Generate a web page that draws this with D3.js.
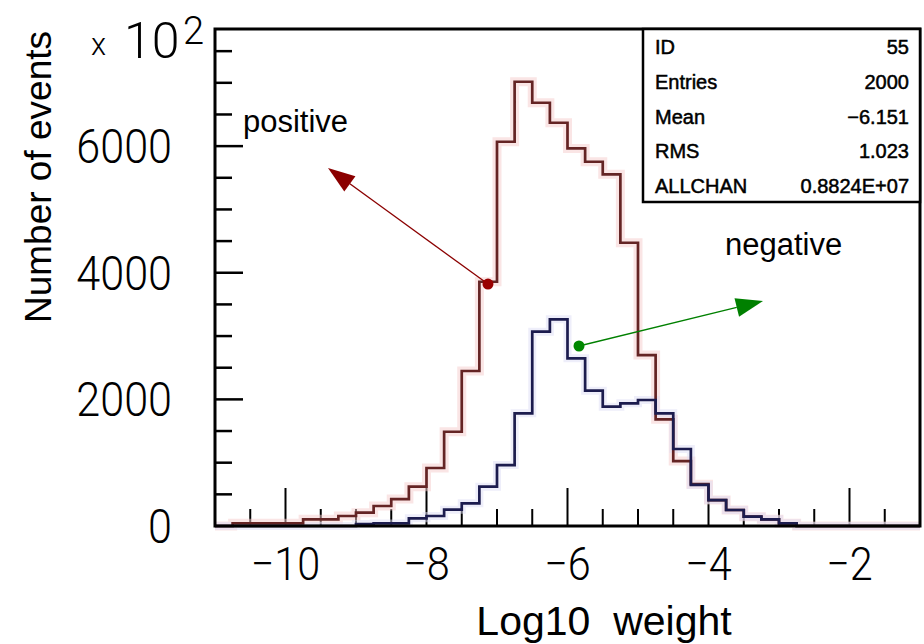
<!DOCTYPE html>
<html>
<head>
<meta charset="utf-8">
<script src="https://cdn.jsdelivr.net/npm/d3@7/dist/d3.min.js"></script>
<style>
body { margin: 0; background: #fff; }
svg { display: block; }
</style>
</head>
<body>
<script>
// histogram bins: lower edges, width 0.25 in log10(weight)
var binLow = d3.range(-11, -1, 0.25);
var binWidth = 0.25;
var positive = [0, 42, 42, 42, 42, 105, 105, 158, 210, 316,
    426, 621, 916, 1489, 2448, 3858, 6069, 7017, 6685, 6369,
    5964, 5753, 5554, 4474, 2700, 1685, 1026, 660, 410, 253,
    147, 106, 42, 0, 0, 0, 0, 0, 0, 0];
var negative = [0, 0, 0, 0, 0, 0, 0, 0, 30, 40,
    40, 121, 158, 258, 358, 621, 963, 1780, 3069, 3264,
    2648, 2137, 1884, 1938, 1990, 1780, 1216, 648, 410, 253,
    147, 106, 42, 0, 0, 0, 0, 0, 0, 0];
var xTickLabels = [-10, -8, -6, -4, -2];
var yTickLabels = [0, 2000, 4000, 6000];
var statNames = ["ID", "Entries", "Mean", "RMS", "ALLCHAN"];
var statValues = ["55", "2000", "\u22126.151", "1.023", "0.8824E+07"];
// annotations in data units
var arrows = [
    { from: [-7.128, 3822], to: [-9.397, 5655], color: "#8b0000", dot: "#990000" },
    { from: [-5.837, 2843], to: [-3.227, 3554], color: "#008000", dot: "#008800" }
];
var notes = [
    { text: "positive", x: -10.603, y: 6223 },
    { text: "negative", x: -3.766, y: 4281 }
];

var W = 924, H = 644;
var m = { top: 29, right: 4, bottom: 118, left: 215 };
var x = d3.scaleLinear().domain([-11, -1]).range([m.left, W - m.right]);
var y = d3.scaleLinear().domain([0, 7850]).range([H - m.bottom, m.top]);

var svg = d3.select("body").append("svg")
    .attr("width", W)
    .attr("height", H);

var tickFont = "Roboto, Lato, 'DejaVu Sans', sans-serif";

// ticks on axes
var g = svg.append("g").attr("stroke", "#000");
g.selectAll(".ytick")
    .data(d3.range(500, 7851, 500))
    .enter().append("line")
    .attr("x1", x(-11))
    .attr("x2", function (d) { return x(-11) + (d % 2000 === 0 ? 28 : 17); })
    .attr("y1", function (d) { return y(d); })
    .attr("y2", function (d) { return y(d); })
    .attr("stroke-width", 2.5);
g.selectAll(".xtick")
    .data(d3.range(-10.5, -1, 0.5))
    .enter().append("line")
    .attr("x1", function (d) { return x(d); })
    .attr("x2", function (d) { return x(d); })
    .attr("y1", y(0))
    .attr("y2", function (d) { return y(0) - (d % 2 === 0 ? 38 : 17); })
    .attr("stroke-width", 2);

// histograms
function histPath(vals) {
    var pts = binLow.map(function (b, i) { return [b, vals[i]]; });
    pts.push([binLow[binLow.length - 1] + binWidth, vals[vals.length - 1]]);
    return d3.line()
        .x(function (d) { return x(d[0]); })
        .y(function (d) { return y(d[1]); })
        .curve(d3.curveStepAfter)(pts);
}
svg.append("path").attr("d", histPath(positive))
    .attr("fill", "none").attr("stroke", "#f6cccc").attr("stroke-width", 9).attr("opacity", 0.5);
svg.append("path").attr("d", histPath(negative))
    .attr("fill", "none").attr("stroke", "#dedef6").attr("stroke-width", 8).attr("opacity", 0.5);
svg.append("path").attr("d", histPath(positive))
    .attr("fill", "none").attr("stroke", "#642424").attr("stroke-width", 2.7);
svg.append("path").attr("d", histPath(negative))
    .attr("fill", "none").attr("stroke", "#1c1c4e").attr("stroke-width", 2.7);

// frame
svg.append("rect")
    .attr("x", x(-11)).attr("y", y(7850))
    .attr("width", x(-1) - x(-11)).attr("height", y(0) - y(7850))
    .attr("fill", "none").attr("stroke", "#000").attr("stroke-width", 3);

// tick labels
svg.selectAll(".ylab")
    .data(yTickLabels)
    .enter().append("text")
    .attr("transform", function (d) { return "translate(" + (x(-11) - 43) + "," + (y(d) + 17) + ") scale(0.88,1)"; })
    .attr("text-anchor", "end")
    .style("font-family", tickFont).style("font-weight", 300).style("font-size", "49px")
    .text(function (d) { return d; });
svg.selectAll(".xlab")
    .data(xTickLabels)
    .enter().append("text")
    .attr("transform", function (d) { return "translate(" + x(d) + "," + 580 + ") scale(0.88,1)"; })
    .attr("text-anchor", "middle")
    .style("font-family", tickFont).style("font-weight", 300).style("font-size", "47px")
    .text(function (d) { return "\u2212" + Math.abs(d); });

// x 10^2 multiplier
var mult = svg.append("text")
    .style("font-family", tickFont).style("font-weight", 300);
mult.append("tspan").attr("x", 91).attr("y", 55).style("font-size", "31px").text("x");
mult.append("tspan").attr("x", 124).attr("y", 58).style("font-size", "50px").text("10");
mult.append("tspan").attr("x", 183).attr("y", 44).style("font-size", "38px").text("2");

// axis titles
var titleFont = "'Liberation Sans', Arial, Helvetica, sans-serif";
svg.append("text")
    .attr("transform", "translate(51,177) rotate(-90)")
    .attr("text-anchor", "middle")
    .style("font-family", titleFont).style("font-size", "37px")
    .text("Number of events");
svg.append("text")
    .attr("x", 604).attr("y", 635)
    .attr("text-anchor", "middle")
    .style("white-space", "pre")
    .style("font-family", titleFont).style("font-size", "41px")
    .text("Log10  weight");

// stats box
var bx = 643, by = y(7850), bw = x(-1) - 643, bh = 173;
svg.append("rect")
    .attr("x", bx).attr("y", by).attr("width", bw).attr("height", bh)
    .attr("fill", "#fff").attr("stroke", "#000").attr("stroke-width", 2.5);
var stats = svg.append("g")
    .style("font-family", titleFont).style("font-size", "20px")
    .attr("stroke", "#000").attr("stroke-width", 0.5);
stats.selectAll(".sn")
    .data(statNames)
    .enter().append("text")
    .attr("x", bx + 12)
    .attr("y", function (d, i) { return by + 25 + i * 34.8; })
    .text(function (d) { return d; });
stats.selectAll(".sv")
    .data(statValues)
    .enter().append("text")
    .attr("x", bx + bw - 11)
    .attr("y", function (d, i) { return by + 25 + i * 34.8; })
    .attr("text-anchor", "end")
    .text(function (d) { return d; });

// annotations
arrows.forEach(function (a) {
    var x0 = x(a.from[0]), y0 = y(a.from[1]);
    var x1 = x(a.to[0]), y1 = y(a.to[1]);
    var dx = x1 - x0, dy = y1 - y0, len = Math.sqrt(dx * dx + dy * dy);
    var ux = dx / len, uy = dy / len;
    var L = 27, hw = 9.5;
    var bxp = x1 - L * ux, byp = y1 - L * uy;
    svg.append("line")
        .attr("x1", x0).attr("y1", y0).attr("x2", bxp).attr("y2", byp)
        .attr("stroke", a.color).attr("stroke-width", 1.3);
    svg.append("polygon")
        .attr("points", [[x1, y1], [bxp - hw * uy, byp + hw * ux], [bxp + hw * uy, byp - hw * ux]].join(" "))
        .attr("fill", a.color);
    svg.append("circle")
        .attr("cx", x0).attr("cy", y0).attr("r", 5.5)
        .attr("fill", a.dot);
});
svg.selectAll(".note")
    .data(notes)
    .enter().append("text")
    .attr("x", function (d) { return x(d.x); })
    .attr("y", function (d) { return y(d.y); })
    .style("font-family", titleFont).style("font-size", "31px")
    .text(function (d) { return d.text; });
</script>
</body>
</html>
